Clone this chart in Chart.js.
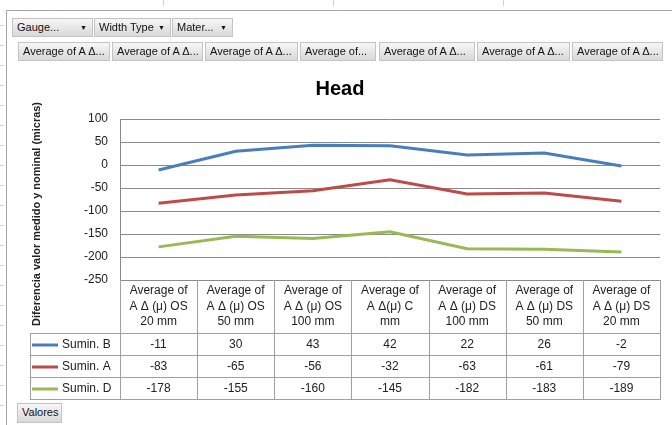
<!DOCTYPE html>
<html>
<head>
<meta charset="utf-8">
<script src="https://cdn.jsdelivr.net/npm/chart.js@4.4.0/dist/chart.umd.min.js"></script>
<style>
body { margin: 0; background: #fff; }
#wrap { position: relative; width: 672px; height: 425px; overflow: hidden; font-family: 'Liberation Sans', Arial, sans-serif; }
#c { position: absolute; left: 0; top: 0; }
.btn {
    position: absolute; box-sizing: border-box; height: 19px;
    background: linear-gradient(#f6f6f6, #d9d9d9);
    border: 1px solid #c4c4c4; font-size: 11px; color: #111;
    line-height: 17px; padding-left: 4px; white-space: nowrap; overflow: hidden;
}
.arr { font-size: 7px; position: absolute; top: 0; }
</style>
</head>
<body>
<div id="wrap">
    <canvas id="c" width="672" height="425"></canvas>
    <div class="btn" style="left:12px;top:18px;width:81px;">Gauge...<span class="arr" style="left:67px">▼</span></div>
    <div class="btn" style="left:94px;top:18px;width:77px;">Width Type<span class="arr" style="left:63px">▼</span></div>
    <div class="btn" style="left:172px;top:18px;width:61px;">Mater...<span class="arr" style="left:47px">▼</span></div>
    <div id="hdr"></div>
    <div class="btn" style="left:17px;top:403px;width:45px;height:20px;">Valores</div>
</div>
<script>
// datos de la tabla / grafico
var categories = [
    ["Average of", "A Δ (μ) OS", "20 mm"],
    ["Average of", "A Δ (μ) OS", "50 mm"],
    ["Average of", "A Δ (μ) OS", "100 mm"],
    ["Average of", "A Δ(μ) C", "mm"],
    ["Average of", "A Δ (μ) DS", "100 mm"],
    ["Average of", "A Δ (μ) DS", "50 mm"],
    ["Average of", "A Δ (μ) DS", "20 mm"]
];
var seriesNames = ["Sumin. B", "Sumin. A", "Sumin. D"];
var suminB = [-11, 30, 43, 42, 22, 26, -2];
var suminA = [-83, -65, -56, -32, -63, -61, -79];
var suminD = [-178, -155, -160, -145, -182, -183, -189];
var yTicks = [100, 50, 0, -50, -100, -150, -200, -250];
var headerButtons = ["Average of A Δ...", "Average of A Δ...", "Average of A Δ...", "Average of...",
    "Average of A Δ...", "Average of A Δ...", "Average of A Δ..."];
var yTitle = "Diferencia valor medido y nominal (micras)";

// botones de campos (fila de arriba)
var hdrX = [18, 112, 205, 300, 379, 477, 572];
var hdrW = [92, 91, 93, 76, 96, 93, 91];
var hdr = document.getElementById("hdr");
headerButtons.forEach(function(t, i) {
    var d = document.createElement("div");
    d.className = "btn";
    d.style.left = hdrX[i] + "px";
    d.style.top = "42px";
    d.style.width = hdrW[i] + "px";
    d.textContent = t;
    hdr.appendChild(d);
});

var colors = ["#4a7ebb", "#be4b48", "#98b954"];
var gridColor = "#8a8a8a";
var fontFam = "'Liberation Sans', Arial, sans-serif";

// dibuja marco, titulo del eje y la tabla de datos
var tablePlugin = {
    id: "dataTable",
    afterDraw: function(chart) {
        var ctx = chart.ctx;
        var area = chart.chartArea;
        var n = categories.length;
        var colW = (area.right - area.left) / n;
        var headH = 53, rowH = 22;
        var top = area.bottom;
        var rowsTop = top + headH;
        var bottom = rowsTop + rowH * 3;
        var keyLeft = 30;

        ctx.save();
        // marco exterior
        ctx.strokeStyle = "#a6a6a6";
        ctx.lineWidth = 1;
        ctx.beginPath();
        ctx.moveTo(6.5, 425); ctx.lineTo(6.5, 10.5); ctx.lineTo(672, 10.5);
        ctx.stroke();
        // marcas de celdas de la hoja
        ctx.strokeStyle = "#d0d0d0";
        ctx.beginPath();
        [163, 333, 503].forEach(function(x) { ctx.moveTo(x + 0.5, 0); ctx.lineTo(x + 0.5, 6); });
        for (var m = 25; m < 425; m += 20) { ctx.moveTo(0, m + 0.5); ctx.lineTo(4, m + 0.5); }
        ctx.stroke();

        // lineas de la tabla
        ctx.strokeStyle = "#a0a0a0";
        ctx.beginPath();
        for (var i = 0; i <= n; i++) {
            var x = Math.round(area.left + i * colW) + 0.5;
            ctx.moveTo(x, top); ctx.lineTo(x, bottom);
        }
        ctx.moveTo(keyLeft + 0.5, rowsTop); ctx.lineTo(keyLeft + 0.5, bottom);
        for (var r = 0; r <= 3; r++) {
            var y = rowsTop + r * rowH + 0.5;
            ctx.moveTo(keyLeft, y); ctx.lineTo(area.right + 1, y);
        }
        ctx.stroke();

        // encabezados
        ctx.fillStyle = "#222";
        ctx.font = "12px " + fontFam;
        ctx.textAlign = "center";
        ctx.textBaseline = "middle";
        var xs = chart.scales.x;
        categories.forEach(function(lines, i) {
            var cx = xs.getPixelForValue(i);
            lines.forEach(function(l, k) {
                ctx.fillText(l, cx, top + 11 + k * 15.5);
            });
        });

        // filas con valores
        var data = [suminB, suminA, suminD];
        data.forEach(function(vals, r) {
            var cy = rowsTop + r * rowH + rowH / 2 + 1;
            ctx.strokeStyle = colors[r];
            ctx.lineWidth = 3;
            ctx.beginPath();
            ctx.moveTo(keyLeft + 2, cy); ctx.lineTo(keyLeft + 28, cy);
            ctx.stroke();
            ctx.textAlign = "left";
            ctx.fillText(seriesNames[r], keyLeft + 32, cy);
            ctx.textAlign = "center";
            vals.forEach(function(v, i) {
                ctx.fillText(String(v), xs.getPixelForValue(i), cy);
            });
        });

        // titulo eje Y
        ctx.translate(37, 214);
        ctx.rotate(-Math.PI / 2);
        ctx.font = "bold 11px " + fontFam;
        var w = ctx.measureText(yTitle).width;
        if (w > 224) ctx.scale(224 / w, 1);
        ctx.fillText(yTitle, 0, 0);
        ctx.restore();
    }
};

var ctx = document.getElementById("c").getContext("2d");
var chart = new Chart(ctx, {
    type: "line",
    data: {
        labels: categories,
        datasets: [
            { label: seriesNames[0], data: suminB, borderColor: colors[0], backgroundColor: colors[0] },
            { label: seriesNames[1], data: suminA, borderColor: colors[1], backgroundColor: colors[1] },
            { label: seriesNames[2], data: suminD, borderColor: colors[2], backgroundColor: colors[2] }
        ]
    },
    options: {
        responsive: false,
        animation: false,
        devicePixelRatio: 1,
        layout: { padding: { left: 20, right: 12, top: 75, bottom: 145 } },
        elements: {
            line: { borderWidth: 3, tension: 0 },
            point: { radius: 0 }
        },
        plugins: {
            legend: { display: false },
            tooltip: { enabled: false },
            title: {
                display: true,
                text: "Head",
                color: "#000",
                font: { family: fontFam, size: 20, weight: "bold" },
                padding: { top: 2, bottom: 18 }
            }
        },
        scales: {
            x: {
                display: false,
                offset: true
            },
            y: {
                min: yTicks[yTicks.length - 1],
                max: yTicks[0],
                afterFit: function(scale) { scale.width = 100; },
                ticks: {
                    stepSize: 50,
                    padding: 12,
                    color: "#222",
                    font: { family: fontFam, size: 12 }
                },
                grid: { color: gridColor, drawTicks: false },
                border: { color: gridColor }
            }
        }
    },
    plugins: [tablePlugin]
});
</script>
</body>
</html>
